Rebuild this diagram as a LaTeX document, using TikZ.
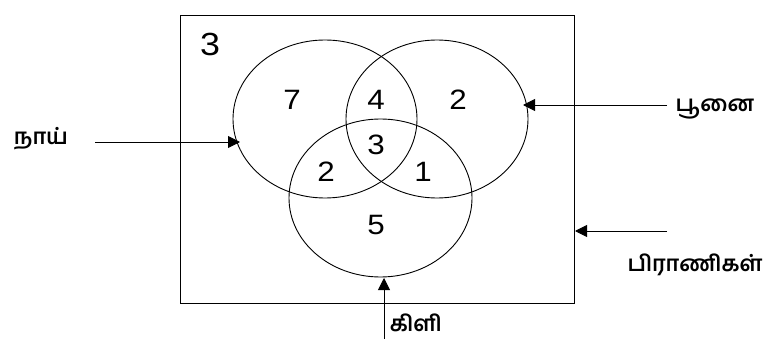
\documentclass[tikz,border=0pt]{standalone}
\usepackage{fontspec}
\setmainfont{Liberation Sans}
\newfontfamily\tamilfont[Script=Tamil]{Hind Madurai}
\usetikzlibrary{arrows.meta}
\tikzset{
  set/.style={draw, line width=0.9pt},
  num/.style={font=\fontsize{28}{28}\selectfont, inner sep=0pt, xscale=1.12},
  lbl/.style={font=\tamilfont\bfseries\fontsize{22}{22}\selectfont, inner sep=0pt},
  pointer/.style={line width=0.9pt, -{Triangle[length=12pt,width=12pt]}},
}
\begin{document}
\begin{tikzpicture}[x=1pt,y=-1pt]
\useasboundingbox (0,0) rectangle (765,339);
\node[set, rectangle, minimum width=394pt, minimum height=288pt, inner sep=0pt] (U) at (377,159) {};
\draw[set] (325,119) ellipse [x radius=92, y radius=79];
\draw[set] (437,119) ellipse [x radius=91, y radius=79];
\draw[set] (380.5,198) ellipse [x radius=91.5, y radius=79];
\coordinate (dogend) at (240,142);
\coordinate (catend) at (523,105);
\coordinate (allend) at (575,231);
\coordinate (parrotend) at (384,278);
\node[num, font=\fontsize{32}{32}\selectfont] (outside) at (210,44) {3};
\node[num] (n7) at (292,100) {7};
\node[num] (n4) at (376,100) {4};
\node[num] (n2a) at (458,100) {2};
\node[num] (n3) at (376,145) {3};
\node[num] (n2b) at (326,172) {2};
\node[num] (n1) at (423,172) {1};
\node[num] (n5) at (376,225) {5};
\node[lbl] (dog) at (41,139) {நாய்};
\node[lbl] (cat) at (715,109) {பூனை};
\node[lbl] (all) at (695,265) {பிராணிகள்};
\node[lbl] (parrot) at (416,323) {கிளி};
\coordinate (dogstart) at (95,142);
\coordinate (catstart) at (667,105);
\coordinate (allstart) at (667,231);
\coordinate (parrotstart) at (384,339);
\draw[pointer] (dogstart) -- (dogend);
\draw[pointer] (catstart) -- (catend);
\draw[pointer] (allstart) -- (allend);
\draw[pointer] (parrotstart) -- (parrotend);
\end{tikzpicture}
\end{document}
